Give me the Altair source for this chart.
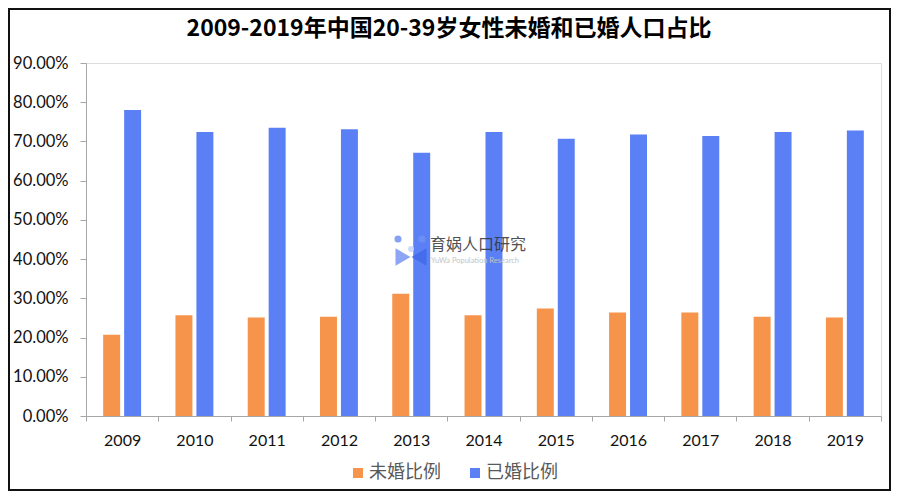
import altair as alt
import pandas as pd

years = ["2009", "2010", "2011", "2012", "2013", "2014", "2015", "2016", "2017", "2018", "2019"]
unmarried = [20.7, 25.7, 25.1, 25.3, 31.2, 25.7, 27.4, 26.4, 26.4, 25.3, 25.1]
married = [78.0, 72.4, 73.5, 73.1, 67.1, 72.4, 70.7, 71.8, 71.4, 72.4, 72.8]
series_names = ["未婚比例", "已婚比例"]
colors = ["#F5944A", "#5B80F5"]
y_ticks = [0, 0.1, 0.2, 0.3, 0.4, 0.5, 0.6, 0.7, 0.8, 0.9]
title_text = "2009-2019年中国20-39岁女性未婚和已婚人口占比"

rows = []
for i, yr in enumerate(years):
    rows.append({"year": yr, "series": series_names[0], "value": unmarried[i] / 100})
    rows.append({"year": yr, "series": series_names[1], "value": married[i] / 100})
df = pd.DataFrame(rows)

W, H = 795, 353
PL, PT, PR, PB = 78, 55, 10, 75


def px(x):
    return x - 8 - PL


def py(y):
    return y - 8 - PT


bars = alt.Chart(df).mark_bar().encode(
    x=alt.X("year:N", sort=years, title=None,
            scale=alt.Scale(paddingInner=0, paddingOuter=0),
            axis=alt.Axis(tickBand="extent", labelAngle=0, labelFont="Lato", labelFontSize=16,
                          labelColor="#111111", labelPadding=11, tickSize=5,
                          domainColor="#a6a6a6", tickColor="#a6a6a6", domainWidth=1)),
    xOffset=alt.XOffset("series:N", sort=series_names,
                        scale=alt.Scale(paddingInner=0.19, paddingOuter=0.82)),
    y=alt.Y("value:Q", title=None,
            scale=alt.Scale(domain=[0, 0.9], nice=False),
            axis=alt.Axis(values=y_ticks, format=".2%", labelFont="Lato", labelFontSize=16.5,
                          labelColor="#111111", labelPadding=12, tickSize=6, grid=False,
                          domainColor="#a6a6a6", tickColor="#a6a6a6")),
    color=alt.Color("series:N", sort=series_names,
                    scale=alt.Scale(domain=series_names, range=colors),
                    legend=alt.Legend(title=None, orient="none", direction="horizontal",
                                      legendX=263, legendY=401,
                                      symbolType="square", symbolSize=100, symbolStrokeWidth=0,
                                      labelFont="Noto Sans CJK SC", labelFontSize=18,
                                      labelColor="#595959", columnPadding=25, labelOffset=2)),
)

one = pd.DataFrame({"t": [title_text]})

title = alt.Chart(one).mark_text(
    font="Noto Sans CJK SC", fontSize=23, fontWeight="bold", color="#000000",
    align="center", baseline="middle"
).encode(text="t:N", x=alt.value(px(449)), y=alt.value(py(29)))

wm = pd.DataFrame({"t": ["育娲人口研究"]})
wm_text = alt.Chart(wm).mark_text(
    font="Noto Sans CJK SC", fontSize=16, color="#333333", opacity=0.85, align="left", baseline="middle"
).encode(text="t:N", x=alt.value(px(430)), y=alt.value(py(245)))

wm2 = pd.DataFrame({"t": ["YuWa Population Research"]})
wm_sub = alt.Chart(wm2).mark_text(
    font="Lato", fontSize=7.5, color="#c4c4c4", align="left", baseline="middle"
).encode(text="t:N", x=alt.value(px(431)), y=alt.value(py(261)))

logo_l = alt.Chart(wm).mark_point(shape="triangle-right", filled=True, size=300, color="#6F90F2", opacity=0.8).encode(
    x=alt.value(px(403)), y=alt.value(py(257)))
logo_r = alt.Chart(wm).mark_point(shape="triangle-left", filled=True, size=300, color="#3F66E8", opacity=0.8).encode(
    x=alt.value(px(419)), y=alt.value(py(257)))
dot_l = alt.Chart(wm).mark_point(shape="circle", filled=True, size=50, color="#6F90F2", opacity=0.85).encode(
    x=alt.value(px(398)), y=alt.value(py(239)))
dot_r = alt.Chart(wm).mark_point(shape="circle", filled=True, size=50, color="#6F90F2", opacity=0.85).encode(
    x=alt.value(px(422)), y=alt.value(py(239)))
dot_c = alt.Chart(wm).mark_point(shape="circle", filled=True, size=35, color="#C9D6FA", opacity=0.9).encode(
    x=alt.value(px(411)), y=alt.value(py(249)))

frame = alt.Chart(one).mark_rect(fill=None, stroke="#111111", strokeWidth=2).encode(
    x=alt.value(-PL + 1), x2=alt.value(W + PR - 1),
    y=alt.value(-PT + 1), y2=alt.value(H + PB - 1))

chart = alt.layer(bars, logo_l, logo_r, dot_l, dot_r, dot_c, wm_text, wm_sub, title, frame).properties(
    width=W, height=H,
    padding={"left": PL, "top": PT, "right": PR, "bottom": PB},
    autosize=alt.AutoSizeParams(type="none"),
).configure_view(stroke=None).configure(background="white")

chart.save("out.html", embed_options={"renderer": "svg", "actions": False})
